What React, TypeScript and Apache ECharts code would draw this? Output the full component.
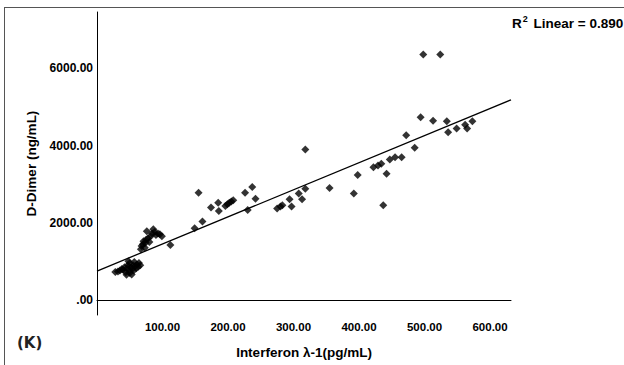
import React, { useEffect, useRef } from "react";
import * as echarts from "echarts";

// Scatter data: [Interferon λ-1 (pg/mL), D-Dimer (ng/mL)]
const lowCluster: number[][] = [
  [28, 722], [32, 740], [35, 760], [38, 800], [40, 780], [42, 850], [44, 720],
  [46, 820], [47, 900], [48, 1000], [50, 760], [50, 950], [52, 850], [53, 660],
  [54, 800], [55, 900], [56, 760], [57, 980], [58, 870], [60, 820], [61, 920],
  [63, 860], [64, 960], [66, 900], [45, 650], [50, 700],
];
const upperCluster: number[][] = [
  [67, 1316], [68, 1400], [70, 1445], [71, 1520], [73, 1350], [74, 1480],
  [75, 1560], [76, 1780], [78, 1600], [80, 1500], [82, 1650], [84, 1720],
  [86, 1830], [88, 1760], [90, 1680], [93, 1720], [96, 1700], [99, 1650],
];
const midPoints: number[][] = [
  [112, 1425], [149, 1858], [155, 2779], [161, 2031], [174, 2392], [185, 2521],
  [186, 2305], [196, 2434], [199, 2480], [202, 2520], [205, 2550], [208, 2580],
  [226, 2779], [230, 2331], [237, 2924], [242, 2624], [275, 2366], [280, 2418],
  [283, 2452], [294, 2606], [297, 2418], [308, 2761], [313, 2606], [318, 2882],
  [318, 3897], [355, 2900],
];
const highPoints: number[][] = [
  [392, 2761], [398, 3234], [422, 3440], [429, 3484], [434, 3527], [437, 2452],
  [442, 3270], [447, 3639], [455, 3698], [465, 3698], [472, 4266], [485, 3940],
  [494, 4731], [498, 6357], [513, 4645], [524, 6357], [534, 4627], [536, 4343],
  [549, 4439], [562, 4542], [565, 4440], [573, 4627],
];

// Fit line
const fitIntercept = 748;
const fitSlope = 7.02;
const xRange = [0, 632];
const yRange = [-390, 7460];
const xTicks = [100, 200, 300, 400, 500, 600];
const yTicks = [0, 2000, 4000, 6000];

const xName = "Interferon λ-1(pg/mL)";
const yName = "D-Dimer (ng/mL)";
const panelLabel = "(K)";

export default function App() {
  const ref = useRef<HTMLDivElement>(null);
  useEffect(() => {
    if (!ref.current) return;
    const chart = echarts.init(ref.current, null, { renderer: "svg" });
    const font = "'Liberation Sans', Arial, sans-serif";
    const points = [...lowCluster, ...upperCluster, ...midPoints, ...highPoints];
    const fitLine = xRange.map((x) => [x, fitIntercept + fitSlope * x]);
    chart.setOption({
      animation: false,
      backgroundColor: "#fff",
      grid: { left: 97, top: 12, right: 113, bottom: 50, containLabel: false },
      xAxis: {
        type: "value",
        min: xRange[0],
        max: xRange[1],
        interval: 100,
        name: xName,
        nameLocation: "middle",
        nameGap: 30,
        nameTextStyle: { fontFamily: font, fontWeight: "bold", fontSize: 13.5, color: "#000" },
        axisLine: { show: true, lineStyle: { color: "#000", width: 1 } },
        axisTick: { show: false },
        splitLine: { show: false },
        axisLabel: {
          customValues: xTicks,
          fontFamily: font,
          fontWeight: "bold",
          fontSize: 11.5,
          color: "#000",
          margin: 6,
          formatter: (v: number) => v.toFixed(2),
        },
      },
      yAxis: {
        type: "value",
        min: yRange[0],
        max: yRange[1],
        name: yName,
        nameLocation: "middle",
        nameGap: 55,
        nameRotate: 90,
        nameTextStyle: { fontFamily: font, fontWeight: "bold", fontSize: 13.5, color: "#000" },
        axisLine: { show: true, lineStyle: { color: "#000", width: 1 } },
        axisTick: { show: false },
        splitLine: { show: false },
        axisLabel: {
          customValues: yTicks,
          fontFamily: font,
          fontWeight: "bold",
          fontSize: 12,
          color: "#000",
          margin: 4,
          formatter: (v: number) => (v === 0 ? ".00" : v.toFixed(2)),
        },
      },
      series: [
        {
          type: "scatter",
          data: points,
          symbol: "diamond",
          symbolSize: 8,
          itemStyle: { color: "#000" },
          silent: true,
        },
        {
          type: "line",
          data: fitLine,
          symbol: "none",
          lineStyle: { color: "#000", width: 1.3 },
          silent: true,
        },
      ],
      graphic: [
        { type: "line", shape: { x1: 4, y1: 7.5, x2: 624, y2: 7.5 }, style: { stroke: "#555", lineWidth: 1 } },
        { type: "line", shape: { x1: 4.5, y1: 7, x2: 4.5, y2: 365 }, style: { stroke: "#555", lineWidth: 1 } },
        {
          type: "text",
          x: 512,
          y: 23,
          style: {
            text: "{b|R}{s|2}{b| Linear = 0.890}",
            verticalAlign: "middle",
            rich: {
              b: { fontFamily: font, fontWeight: "bold", fontSize: 13.5, fill: "#000" },
              s: { fontFamily: font, fontWeight: "bold", fontSize: 9, fill: "#000", padding: [0, 2, 8, 1] },
            },
          },
        },
        {
          type: "text",
          x: 17,
          y: 343,
          style: {
            text: panelLabel,
            verticalAlign: "middle",
            fontFamily: "'DejaVu Sans', sans-serif",
            fontWeight: "bold",
            fontSize: 15,
            fill: "#222",
          },
        },
      ],
    });
    return () => chart.dispose();
  }, []);
  return <div ref={ref} style={{ width: 624, height: 365, position: "absolute", left: 0, top: 0 }} />;
}
